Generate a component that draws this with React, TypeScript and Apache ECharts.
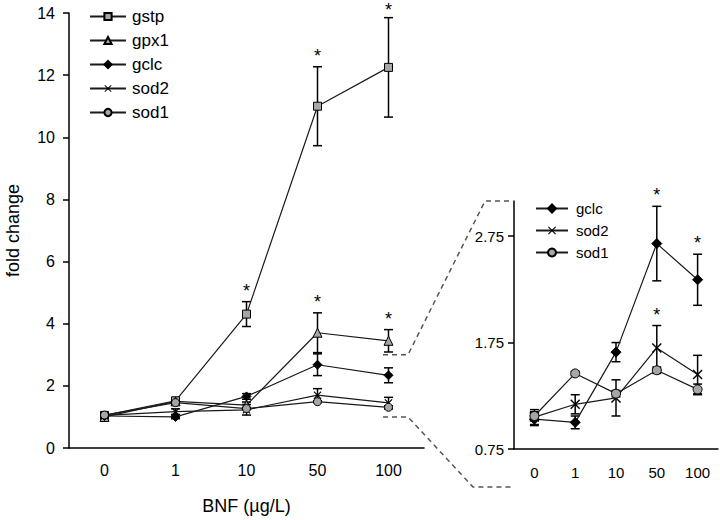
import React, { useEffect, useRef } from "react";
import * as echarts from "echarts";

const categories = ["0", "1", "10", "50", "100"];

const gstpMean = [1.05, 1.52, 4.31, 11.0, 12.25];
const gstpErr = [0.06, 0.05, 0.4, 1.27, 1.6];
const gpx1Mean = [1.0, 1.5, 1.38, 3.71, 3.45];
const gpx1Err = [0.05, 0.05, 0.1, 0.64, 0.36];
const gclcMean = [1.03, 1.0, 1.66, 2.68, 2.34];
const gclcErr = [0.06, 0.06, 0.09, 0.35, 0.24];
const sod2Mean = [1.05, 1.17, 1.23, 1.7, 1.45];
const sod2Err = [0.07, 0.09, 0.17, 0.21, 0.18];
const sod1Mean = [1.06, 1.46, 1.27, 1.49, 1.31];
const sod1Err = [0.04, 0.02, 0.03, 0.03, 0.05];

const gstpSig = [false, false, true, true, true];
const gpx1Sig = [false, false, false, true, true];
const gclcSig = [false, false, false, true, true];
const sod2Sig = [false, false, false, true, false];

const mainLegend = ["gstp", "gpx1", "gclc", "sod2", "sod1"];
const insetLegend = ["gclc", "sod2", "sod1"];

const FONT = "'Liberation Sans', Arial, sans-serif";
const GRAY = "#a6a6a6";
const X_SYMBOL = "path://M0,1L1,0L5,4L9,0L10,1L6,5L10,9L9,10L5,6L1,10L0,9L4,5Z";

function lineSeries(name: string, data: number[], symbol: string, size: number, fill: string, idx: number) {
  return {
    type: "line",
    name,
    data,
    xAxisIndex: idx,
    yAxisIndex: idx,
    symbol,
    symbolSize: size,
    showAllSymbol: true,
    lineStyle: { color: "#1a1a1a", width: 1.2 },
    itemStyle: { color: fill, borderColor: "#000", borderWidth: symbol === X_SYMBOL ? 0 : 1 },
    z: 4,
  };
}

function errSeries(mean: number[], err: number[], idx: number) {
  return {
    type: "custom",
    xAxisIndex: idx,
    yAxisIndex: idx,
    z: 3,
    silent: true,
    data: mean.map((m, i) => [i, m - err[i], m + err[i]]),
    encode: { x: 0, y: [1, 2] },
    renderItem: (params: any, api: any) => {
      const x = api.value(0);
      const lo = api.coord([x, api.value(1)]);
      const hi = api.coord([x, api.value(2)]);
      const w = 4.5;
      const st = { stroke: "#000", lineWidth: 1.5 };
      return {
        type: "group",
        children: [
          { type: "line", shape: { x1: lo[0], y1: lo[1], x2: hi[0], y2: hi[1] }, style: st },
          { type: "line", shape: { x1: lo[0] - w, y1: lo[1], x2: lo[0] + w, y2: lo[1] }, style: st },
          { type: "line", shape: { x1: hi[0] - w, y1: hi[1], x2: hi[0] + w, y2: hi[1] }, style: st },
        ],
      };
    },
  };
}

function starSeries(mean: number[], err: number[], sig: boolean[], idx: number) {
  const data: number[][] = [];
  sig.forEach((s, i) => {
    if (s) data.push([i, mean[i] + err[i]]);
  });
  return {
    type: "custom",
    xAxisIndex: idx,
    yAxisIndex: idx,
    z: 5,
    silent: true,
    data,
    encode: { x: 0, y: 1 },
    renderItem: (params: any, api: any) => {
      const p = api.coord([api.value(0), api.value(1)]);
      return {
        type: "text",
        x: p[0],
        y: Math.max(p[1] - 20, 1),
        style: { text: "*", fill: "#000", fontSize: 18, fontFamily: FONT, align: "center", verticalAlign: "top" },
      };
    },
  };
}

export default function App() {
  const ref = useRef<HTMLDivElement>(null);
  useEffect(() => {
    if (!ref.current) return;
    const chart = echarts.init(ref.current, null, { renderer: "svg" });
    const axisLine = { lineStyle: { color: "#000", width: 1.5 } };
    const axisTick = { lineStyle: { color: "#000", width: 1.5 }, length: 6 };
    const option: any = {
      animation: false,
      backgroundColor: "#fff",
      textStyle: { fontFamily: FONT },
      grid: [
        { left: 69, top: 13, width: 355, height: 436 },
        { left: 514, top: 201, width: 204, height: 248 },
      ],
      xAxis: [
        {
          type: "category",
          gridIndex: 0,
          data: categories,
          boundaryGap: true,
          axisLine,
          axisTick: { ...axisTick, alignWithLabel: false },
          axisLabel: { color: "#000", fontSize: 16, margin: 14, fontFamily: FONT },
          name: "BNF (\u00b5g/L)",
          nameLocation: "middle",
          nameGap: 49,
          nameTextStyle: { color: "#000", fontSize: 18, fontFamily: FONT },
        },
        {
          type: "category",
          gridIndex: 1,
          data: categories,
          boundaryGap: true,
          axisLine,
          axisTick,
          axisLabel: { color: "#000", fontSize: 15, margin: 16, fontFamily: FONT },
        },
      ],
      yAxis: [
        {
          type: "value",
          gridIndex: 0,
          min: 0,
          max: 14,
          interval: 2,
          splitLine: { show: false },
          axisLine: { show: true, ...axisLine },
          axisTick: { show: true, ...axisTick },
          axisLabel: { color: "#000", fontSize: 16, margin: 14, fontFamily: FONT },
          name: "fold change",
          nameLocation: "middle",
          nameGap: 47,
          nameTextStyle: { color: "#000", fontSize: 18, fontFamily: FONT },
        },
        {
          type: "value",
          gridIndex: 1,
          min: 0.75,
          max: 3.08,
          interval: 1,
          splitLine: { show: false },
          axisLine: { show: true, ...axisLine },
          axisTick: { show: true, ...axisTick },
          axisLabel: {
            color: "#000",
            fontSize: 15,
            margin: 10,
            fontFamily: FONT,
            showMaxLabel: false,
            formatter: (v: number) => (Math.abs(v - 3.08) < 0.01 ? "" : v.toFixed(2)),
          },
        },
      ],
      legend: [
        {
          data: mainLegend,
          orient: "vertical",
          left: 84,
          top: 3,
          itemWidth: 36,
          itemHeight: 9,
          itemGap: 7,
          selectedMode: false,
          textStyle: { color: "#000", fontSize: 17, fontFamily: FONT, padding: [0, 0, 0, 1] },
        },
        {
          data: insetLegend,
          orient: "vertical",
          left: 530,
          top: 196,
          itemWidth: 32,
          itemHeight: 10,
          itemGap: 7,
          selectedMode: false,
          textStyle: { color: "#000", fontSize: 15, fontFamily: FONT, padding: [0, 0, 0, 3] },
        },
      ],
      series: [
        errSeries(gstpMean, gstpErr, 0),
        errSeries(gpx1Mean, gpx1Err, 0),
        errSeries(gclcMean, gclcErr, 0),
        errSeries(sod2Mean, sod2Err, 0),
        errSeries(sod1Mean, sod1Err, 0),
        lineSeries("gstp", gstpMean, "rect", 8, GRAY, 0),
        lineSeries("gpx1", gpx1Mean, "triangle", 9, GRAY, 0),
        lineSeries("gclc", gclcMean, "diamond", 9, "#000", 0),
        lineSeries("sod2", sod2Mean, X_SYMBOL, 8, "#000", 0),
        lineSeries("sod1", sod1Mean, "circle", 8, GRAY, 0),
        starSeries(gstpMean, gstpErr, gstpSig, 0),
        starSeries(gpx1Mean, gpx1Err, gpx1Sig, 0),
        errSeries(gclcMean, gclcErr, 1),
        errSeries(sod2Mean, sod2Err, 1),
        errSeries(sod1Mean, sod1Err, 1),
        lineSeries("gclc", gclcMean, "diamond", 10, "#000", 1),
        lineSeries("sod2", sod2Mean, X_SYMBOL, 10, "#000", 1),
        lineSeries("sod1", sod1Mean, "circle", 9, GRAY, 1),
        starSeries(gclcMean, gclcErr, gclcSig, 1),
        starSeries(sod2Mean, sod2Err, sod2Sig, 1),
      ],
    };
    chart.setOption(option);

    // zoom connector (decoration) computed from axis scales
    const yTop = chart.convertToPixel({ gridIndex: 0 }, [0, 3])[1];
    const yBot = chart.convertToPixel({ gridIndex: 0 }, [0, 1])[1];
    const insetTopY = chart.convertToPixel({ gridIndex: 1 }, [0, 3.08])[1];
    const insetBotY = chart.convertToPixel({ gridIndex: 1 }, [0, 0.75])[1];
    const mainRight = 69 + 355;
    const insetLeft = 514;
    const dash = { stroke: "#555", lineWidth: 1.5, lineDash: [5, 4], fill: "none" };
    chart.setOption({
      graphic: [
        {
          type: "polyline",
          shape: {
            points: [
              [mainRight - 41, yTop],
              [mainRight - 16, yTop],
              [insetLeft - 29, insetTopY],
              [insetLeft - 1, insetTopY],
            ],
          },
          style: dash,
          silent: true,
        },
        {
          type: "polyline",
          shape: {
            points: [
              [mainRight - 41, yBot],
              [mainRight - 16, yBot],
              [insetLeft - 41, insetBotY + 38],
              [insetLeft - 1, insetBotY + 38],
            ],
          },
          style: dash,
          silent: true,
        },
      ],
    });
    return () => chart.dispose();
  }, []);
  return <div ref={ref} style={{ position: "absolute", left: 0, top: 0, width: 720, height: 520 }} />;
}
